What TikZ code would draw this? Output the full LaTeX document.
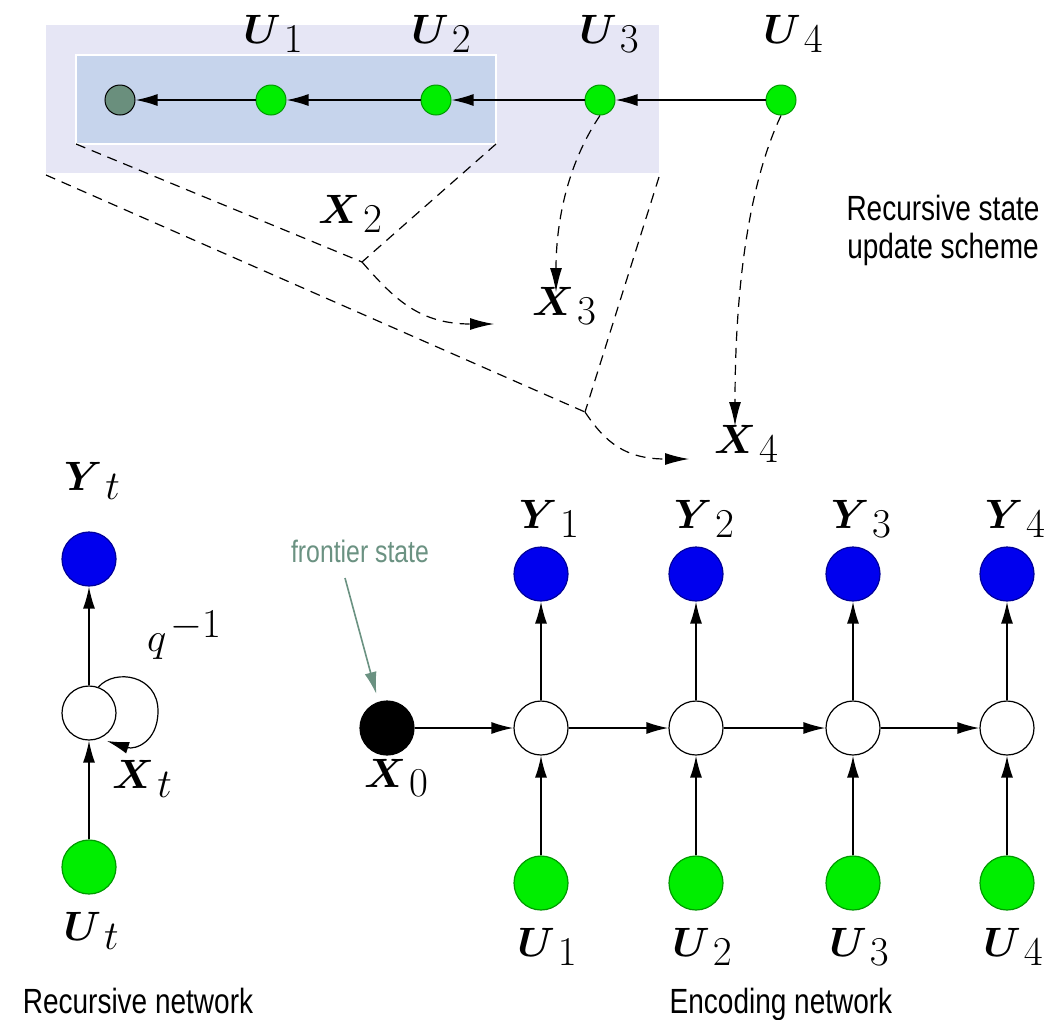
\RequirePackage{fix-cm}
\documentclass[tikz,border=0pt]{standalone}
\usepackage{fontspec}
\usepackage{bm}
\usetikzlibrary{arrows.meta}
\newfontfamily\narrowsans[FakeStretch=0.8]{Liberation Sans}
\newcommand\mlbl[2]{$\bm{#1}$\kern1.5pt\raisebox{-4.5pt}{$#2$}}
\definecolor{outerbg}{HTML}{E6E6F5}
\definecolor{innerbg}{HTML}{C6D4EC}
\definecolor{darknode}{HTML}{6A8F7D}
\definecolor{greenfill}{HTML}{00EE00}
\definecolor{greenline}{HTML}{009A00}
\definecolor{bluefill}{HTML}{0000EE}
\definecolor{blueline}{HTML}{00009A}
\definecolor{frontier}{HTML}{6B9282}
\begin{document}
\begin{tikzpicture}[x=0.5pt,y=-0.5pt,
  lbl/.style={font=\fontsize{20.5}{22}\selectfont, inner sep=0pt, anchor=base},
  txt/.style={font=\narrowsans\fontsize{17.5}{20}\selectfont, inner sep=0pt, anchor=base},
  small/.style={circle, minimum size=15pt, inner sep=0pt, line width=0.5pt},
  big/.style={circle, minimum size=27pt, inner sep=0pt, line width=0.6pt},
  gnode/.style={fill=greenfill, draw=greenline},
  bnode/.style={fill=bluefill, draw=blueline},
  wnode/.style={fill=white, draw=black},
  arr/.style={-{Latex[length=11pt,width=6pt]}, line width=0.8pt},
  dsh/.style={dash pattern=on 5pt off 3.5pt, line width=0.6pt},
  darr/.style={dsh, -{Latex[length=12pt,width=6pt]}},
  farr/.style={draw=frontier, line width=0.8pt, -{Latex[length=11pt,width=6pt]}}]
\useasboundingbox (0,0) rectangle (1054,1019);
\fill[white] (0,0) rectangle (1054,1019);

% ---------- top: recursive state update scheme ----------
\coordinate (otl) at (46,25);
\coordinate (obr) at (659,173);
\coordinate (itl) at (76,55);
\coordinate (ibr) at (496,144);
\fill[outerbg] (otl) rectangle (obr);
\filldraw[fill=innerbg, draw=white, line width=1pt] (itl) rectangle (ibr);

\node[small, fill=darknode, draw=black] (t0) at (120,100) {};
\node[small, gnode] (tu1) at (271,100) {};
\node[small, gnode] (tu2) at (436,100) {};
\node[small, gnode] (tu3) at (600,100) {};
\node[small, gnode] (tu4) at (781,100) {};

\node[lbl] (lu1) at (273,43) {\mlbl{U}{1}};
\node[lbl] (lu2) at (441,43) {\mlbl{U}{2}};
\node[lbl] (lu3) at (609,43) {\mlbl{U}{3}};
\node[lbl] (lu4) at (793,43) {\mlbl{U}{4}};

\draw[arr] (tu4) -- (tu3);
\draw[arr] (tu3) -- (tu2);
\draw[arr] (tu2) -- (tu1);
\draw[arr] (tu1) -- (t0);

\coordinate (ibl) at (76,144);
\coordinate (ibrc) at (496,144);
\coordinate (obl) at (46,175);
\coordinate (obrc) at (659,177);
\coordinate (j1) at (362,262);
\coordinate (j2) at (585,412);
\coordinate (e1) at (494,324);
\coordinate (e2) at (689,459);
\coordinate (e3) at (556,292);
\coordinate (e4) at (735,426);

\draw[dsh] (ibl) -- (j1);
\draw[dsh] (ibrc) -- (j1);
\draw[darr] (j1) .. controls (395,300) and (420,324) .. (e1);
\draw[dsh] (obl) -- (j2);
\draw[dsh] (obrc) -- (j2);
\draw[darr] (j2) .. controls (605,442) and (625,459) .. (e2);
\draw[darr] (tu3.south) .. controls (566,166) and (556,225) .. (e3);
\draw[darr] (tu4.south) .. controls (746,190) and (735,300) .. (e4);

\node[lbl] (lx2) at (350,223) {\mlbl{X}{2}};
\node[lbl] (lx3) at (564,315) {\mlbl{X}{3}};
\node[lbl] (lx4) at (746,453) {\mlbl{X}{4}};

\node[txt] (rs1) at (943,220) {Recursive state};
\node[txt] (rs2) at (943,258) {update scheme};

% ---------- bottom left: recursive network ----------
\node[big, bnode] (ly) at (89,559) {};
\node[big, wnode] (lx) at (89,713) {};
\node[big, gnode] (lu) at (89,867) {};
\draw[arr] (lu) -- (lx);
\draw[arr] (lx) -- (ly);
\coordinate (le) at (107,741);
\draw[arr, line width=0.6pt] (lx.70) .. controls (115,668) and (158,675) .. (158,711)
   .. controls (158,742) and (135,750) .. (le);
\node[lbl] (lyl) at (92,490) {\mlbl{Y}{t}};
\node[lbl] (lq) at (184,651) {$q$\kern2pt\raisebox{7pt}{$-1$}};
\node[lbl] (lxl) at (142,788) {\mlbl{X}{t}};
\node[lbl] (lul) at (91,940) {\mlbl{U}{t}};
\node[txt] (rn) at (138,1013) {Recursive network};

% ---------- bottom right: encoding network ----------
\node[big, fill=black, draw=black] (x0) at (387,728) {};
\node[lbl] (x0l) at (396,787) {\mlbl{X}{0}};
\foreach \i/\x in {1/541,2/696,3/853,4/1007}{
  \node[big, wnode] (w\i) at (\x,728) {};
  \node[big, bnode] (y\i) at (\x,574) {};
  \node[big, gnode] (u\i) at (\x,883) {};
  \draw[arr] (u\i) -- (w\i);
  \draw[arr] (w\i) -- (y\i);
  \node[lbl] (yl\i) at (\x+8,528) {\mlbl{Y}{\i}};
  \node[lbl] (ul\i) at (\x+6,956) {\mlbl{U}{\i}};
}
\draw[arr] (x0) -- (w1);
\draw[arr] (w1) -- (w2);
\draw[arr] (w2) -- (w3);
\draw[arr] (w3) -- (w4);

\node[txt, text=frontier, font=\narrowsans\fontsize{15.5}{18}\selectfont] (fs) at (360,562) {frontier state};
\coordinate (fa) at (345,578);
\draw[farr, shorten >=4pt] (fa) -- (x0.108);

\node[txt] (en) at (781,1013) {Encoding network};
\end{tikzpicture}
\end{document}
